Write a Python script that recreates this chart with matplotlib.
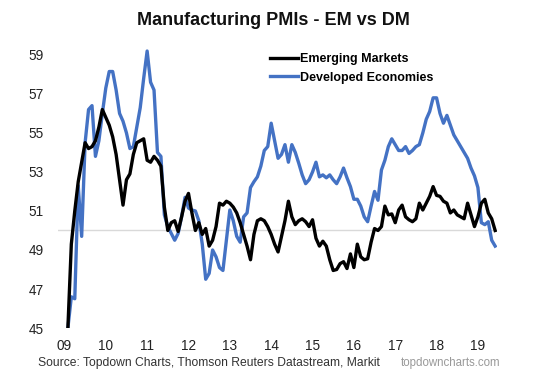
import matplotlib
matplotlib.use("Agg")
import matplotlib.pyplot as plt
import numpy as np

plt.rcParams['font.family'] = ['Liberation Sans', 'DejaVu Sans']

# Monthly data, Feb 2009 (month index 1) .. Jun 2019 (month index 125)
em = [45.0, 49.3, 51.0, 52.5, 53.5, 54.5, 54.2, 54.3, 54.6, 55.3,
      56.2, 55.8, 55.4, 54.8, 53.9, 52.6, 51.3, 52.6, 52.9, 53.9,
      54.5, 54.6, 54.7, 53.6, 53.5, 53.8, 53.6, 53.3, 51.2, 50.0,
      50.4, 50.5, 49.95, 50.7, 51.5, 51.9, 50.9, 50.0, 50.4, 49.8,
      50.1, 49.2, 49.5, 50.2, 51.4, 51.3, 51.5, 51.4, 51.2, 50.9,
      50.4, 49.8, 49.2, 48.5, 49.8, 50.5, 50.6, 50.5, 50.2, 49.8,
      49.3, 48.9, 49.7, 50.5, 51.5, 50.7, 50.3, 50.5, 50.6, 50.45,
      50.2, 50.55, 49.6, 49.2, 49.45, 49.2, 48.5, 47.95, 48.0, 48.3,
      48.4, 48.05, 48.8, 48.1, 49.3, 48.65, 48.5, 48.55, 49.4, 50.1,
      50.0, 50.2, 51.25, 50.8, 50.85, 50.4, 51.05, 51.3, 50.7, 50.55,
      50.45, 50.6, 51.4, 51.05, 51.4, 51.75, 52.25, 51.8, 51.75, 51.5,
      51.4, 50.9, 51.05, 50.8, 50.7, 50.6, 51.4, 50.8, 50.2, 50.7,
      51.4, 51.6, 50.9, 50.6, 50.0]

dm = [45.0, 46.6, 46.5, 52.3, 49.7, 54.5, 56.2, 56.4, 53.8, 54.6,
      56.0, 57.3, 58.15, 58.15, 57.2, 56.0, 55.6, 55.0, 54.2, 54.3,
      55.3, 56.3, 57.8, 59.2, 57.6, 57.2, 54.0, 53.8, 50.8, 50.2,
      49.85, 49.5, 49.85, 50.7, 51.7, 51.15, 51.05, 51.0, 50.5, 49.3,
      47.5, 47.8, 49.0, 48.65, 48.1, 47.95, 49.5, 51.05, 50.5, 49.7,
      49.4, 50.7, 50.9, 52.2, 52.5, 52.75, 53.3, 54.1, 54.3, 55.5,
      54.6, 53.7, 53.9, 54.4, 53.5, 54.4, 54.0, 53.45, 52.85, 52.4,
      52.6, 53.0, 53.5, 52.75, 52.85, 52.7, 52.85, 52.6, 52.4, 52.75,
      53.2, 52.7, 52.25, 51.6, 51.6, 51.25, 50.7, 50.45, 51.25, 52.0,
      51.55, 53.1, 53.6, 54.3, 54.7, 54.4, 54.1, 54.1, 54.3, 53.95,
      54.1, 54.3, 54.4, 55.0, 55.7, 56.1, 56.8, 56.8, 56.0, 55.5,
      55.9, 55.4, 54.9, 54.6, 54.3, 54.0, 53.7, 53.2, 52.8, 52.2,
      50.4, 50.3, 50.45, 49.5, 49.2]

year_labels = ["09", "10", "11", "12", "13", "14", "15", "16", "17", "18", "19"]
y_ticks = [45, 47, 49, 51, 53, 55, 57, 59]

months = np.arange(1, len(em) + 1)

fig = plt.figure(figsize=(5.36, 3.85), dpi=100)
ax = fig.add_axes([0.108, 0.148, 0.819, 0.760])

ax.axhline(50, color='#d9d9d9', lw=1.0, zorder=1)
ax.plot(months, em, color='black', lw=2.4, label='Emerging Markets', zorder=3)
ax.plot(months, dm, color='#4472C4', lw=2.4, label='Developed Economies', zorder=2)

ax.set_xlim(-1.9, 125.5)
ax.set_ylim(45, 60)
ax.set_yticks(y_ticks)
ax.set_yticklabels([str(v) for v in y_ticks])
ax.set_xticks(np.arange(len(year_labels)) * 12)
ax.set_xticklabels(year_labels)
ax.tick_params(axis='both', length=0, labelsize=9.8, colors='#222222')
ax.tick_params(axis='y', pad=10)
ax.tick_params(axis='x', pad=8)
for s in ax.spines.values():
    s.set_visible(False)

leg = ax.legend(loc='upper left', bbox_to_anchor=(0.458, 0.977), frameon=False,
                handlelength=2.2, handletextpad=0.15, labelspacing=0.5,
                prop={'weight': 'bold', 'size': 9})

fig.text(0.51, 0.948, "Manufacturing PMIs - EM vs DM", ha='center', va='center',
         fontsize=13, fontweight='bold', color='#111111')
fig.text(0.07, 0.058, "Source: Topdown Charts, Thomson Reuters Datastream, Markit",
         ha='left', va='center', fontsize=8.7, color='#333333')
fig.text(0.933, 0.058, "topdowncharts.com", ha='right', va='center',
         fontsize=8.3, color='#999999')

fig.savefig("out.png", dpi=100, facecolor='white')
